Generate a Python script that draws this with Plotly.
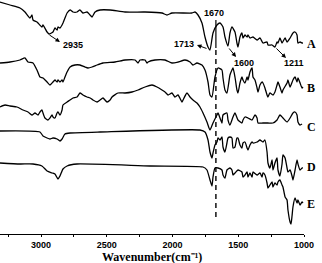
import plotly.graph_objects as go

# ---- data (wavenumber, relative transmittance incl. offset) ----
wn_A = [3312, 3236, 3160, 3122, 3084, 3069, 3061, 3031, 3023, 2993, 2985, 2954, 2939, 2909, 2894, 2878,
        2871, 2856, 2840, 2833, 2818, 2802, 2779, 2757, 2726, 2704, 2681, 2650, 2627, 2612, 2589, 2551,
        2475, 2361, 2209, 2080, 2042, 2004, 1852, 1829, 1806, 1776, 1753, 1730, 1715, 1692, 1662, 1639,
        1616, 1601, 1578, 1563, 1548, 1525, 1510, 1502, 1487, 1472, 1464, 1449, 1433, 1426, 1411, 1388,
        1357, 1335, 1312, 1281, 1274, 1243, 1221, 1205, 1198, 1183, 1167, 1144, 1129, 1106, 1084, 1068,
        1053, 1046, 1030, 1015, 1008]
t_A = [232, 229, 226, 222, 216, 219, 214, 212, 211, 207, 209, 202, 200, 202, 206, 204,
       207, 206, 209, 211, 216, 221, 224, 222, 222, 224, 221, 222, 219, 217, 222, 224,
       224, 222, 222, 221, 219, 221, 221, 222, 219, 211, 197, 187, 184, 201, 209, 211,
       207, 197, 188, 201, 207, 202, 191, 187, 197, 201, 196, 199, 197, 199, 196, 197,
       194, 196, 191, 192, 189, 189, 187, 192, 191, 196, 191, 196, 192, 196, 201, 202,
       199, 191, 192, 191, 191]

wn_B = [3312, 3236, 3160, 3122, 3099, 3061, 3031, 3008, 2985, 2954, 2932, 2909, 2894, 2878, 2871, 2856,
        2840, 2833, 2818, 2802, 2779, 2742, 2704, 2666, 2643, 2612, 2574, 2529, 2437, 2361, 2285, 2262,
        2247, 2209, 2194, 2186, 2133, 2057, 2004, 1958, 1905, 1867, 1844, 1814, 1776, 1753, 1730, 1715,
        1700, 1677, 1654, 1624, 1616, 1601, 1586, 1563, 1548, 1540, 1525, 1510, 1502, 1487, 1472, 1464,
        1449, 1433, 1426, 1411, 1395, 1388, 1373, 1357, 1350, 1335, 1319, 1312, 1297, 1281, 1274, 1259,
        1236, 1221, 1205, 1198, 1183, 1167, 1160, 1129, 1122, 1106, 1084, 1068, 1053, 1046, 1030, 1015, 1008]
t_B = [171, 172, 174, 176, 172, 171, 164, 157, 156, 152, 149, 152, 154, 152, 154, 152,
       154, 152, 157, 162, 167, 169, 169, 167, 166, 167, 169, 171, 172, 174, 174, 171,
       174, 174, 171, 172, 174, 174, 171, 172, 174, 172, 169, 171, 169, 164, 152, 139,
       137, 157, 166, 164, 156, 144, 141, 159, 164, 166, 157, 144, 141, 151, 157, 154,
       151, 157, 154, 162, 166, 157, 154, 146, 142, 149, 152, 151, 146, 139, 137, 141,
       139, 142, 149, 152, 147, 141, 144, 151, 154, 147, 154, 157, 152, 156, 151, 146, 147]

wn_C = [3312, 3274, 3236, 3183, 3137, 3099, 3069, 3046, 3023, 3008, 2993, 2985, 2970, 2947, 2932, 2916,
        2909, 2894, 2878, 2871, 2856, 2840, 2833, 2802, 2779, 2757, 2726, 2704, 2681, 2650, 2627, 2605,
        2574, 2551, 2529, 2498, 2475, 2460, 2415, 2361, 2308, 2262, 2209, 2156, 2118, 2080, 2057, 2034,
        2004, 1981, 1958, 1928, 1920, 1890, 1867, 1844, 1814, 1791, 1768, 1738, 1715, 1692, 1662, 1654,
        1639, 1624, 1616, 1586, 1578, 1563, 1540, 1525, 1502, 1472, 1464, 1449, 1426, 1395, 1373, 1357,
        1350, 1312, 1274, 1236, 1205, 1183, 1160, 1129, 1106, 1084, 1068, 1053, 1046, 1030, 1015]
t_C = [127, 129, 128, 127, 124, 122, 119, 121, 119, 122, 124, 121, 116, 114, 116, 119,
       117, 116, 121, 122, 119, 124, 129, 132, 134, 136, 137, 141, 139, 137, 136, 134,
       132, 134, 136, 132, 134, 137, 141, 141, 142, 144, 147, 149, 147, 144, 142, 139,
       141, 137, 139, 132, 134, 141, 137, 134, 131, 127, 121, 112, 104, 111, 119, 121,
       116, 111, 119, 121, 114, 109, 117, 121, 114, 111, 114, 117, 116, 114, 119, 116,
       111, 111, 111, 111, 114, 119, 116, 112, 116, 121, 122, 119, 112, 109, 110]

wn_D = [3312, 3008, 2985, 2954, 2932, 2909, 2878, 2856, 2840, 2818, 2779, 2551, 1791, 1753, 1730, 1715,
        1700, 1692, 1677, 1662, 1654, 1639, 1624, 1616, 1601, 1586, 1578, 1563, 1548, 1540, 1525, 1510,
        1502, 1487, 1472, 1464, 1449, 1433, 1426, 1411, 1395, 1388, 1357, 1335, 1312, 1297, 1281, 1274,
        1259, 1243, 1236, 1221, 1205, 1198, 1183, 1167, 1160, 1144, 1129, 1122, 1106, 1091, 1084, 1068,
        1053, 1046, 1030, 1015, 1008]
t_D = [103, 102, 98, 96, 95, 96, 95, 93, 95, 100, 101, 102, 104, 102, 94, 82,
       76, 81, 89, 92, 96, 94, 97, 87, 82, 91, 96, 97, 96, 86, 87, 96,
       96, 89, 86, 91, 92, 86, 84, 89, 92, 91, 92, 94, 92, 94, 82, 71,
       66, 74, 64, 71, 76, 64, 58, 70, 79, 76, 66, 62, 64, 58, 54, 64,
       74, 70, 64, 66, 66]

wn_E = [3312, 3160, 3061, 2993, 2954, 2916, 2894, 2871, 2856, 2833, 2802, 2726, 2171, 1768, 1738, 1715,
        1700, 1692, 1677, 1654, 1624, 1616, 1601, 1586, 1563, 1548, 1540, 1525, 1502, 1472, 1464, 1449,
        1433, 1426, 1411, 1395, 1388, 1357, 1335, 1319, 1312, 1297, 1281, 1274, 1259, 1243, 1236, 1221,
        1205, 1198, 1183, 1167, 1160, 1144, 1129, 1122, 1106, 1099, 1091, 1084, 1068, 1053, 1046, 1030,
        1015, 1008]
t_E = [71, 70, 70, 68, 63, 61, 60, 55, 58, 65, 68, 70, 68, 67, 64, 54,
       48, 57, 66, 66, 64, 59, 56, 64, 66, 64, 59, 61, 64, 62, 57, 59,
       62, 57, 61, 57, 62, 59, 61, 57, 61, 59, 51, 46, 49, 52, 47, 51,
       49, 52, 54, 49, 47, 37, 34, 24, 12, 10, 18, 27, 36, 31, 34, 29,
       32, 31]

series = [("A", wn_A, t_A, 190), ("B", wn_B, t_B, 146), ("C", wn_C, t_C, 107),
          ("D", wn_D, t_D, 67), ("E", wn_E, t_E, 30)]

tick_vals = [3000, 2500, 2000, 1500, 1000]
tick_text = ["3000", "2500", "2000", "1500", "1000"]
minor_vals = [3250, 2750, 2250, 1750, 1250]

# peak annotations: label, text position, arrow tail, arrow head
peak_labels = [
    ("2935", (2757, 189), (2947, 200), (2856, 192)),
    ("1713", (1913, 190), (1730, 185), (1814, 189)),
    ("1600", (1456, 171), (1578, 187), (1517, 177)),
    ("1211", (1076, 171), (1221, 187), (1137, 176)),
]
label_1670 = ("1670", (1685, 221))
dash_wn = 1670

fig = go.Figure()
for name, wn, t, ly in series:
    fig.add_trace(go.Scatter(x=wn, y=t, mode="lines", name=name,
                             line=dict(color="black", width=1.3, shape="spline", smoothing=0.5),
                             showlegend=False, hoverinfo="skip"))

annotations = []
for name, wn, t, ly in series:
    annotations.append(dict(x=1.024, xref="paper", y=ly, yref="y", text="<b>%s</b>" % name,
                            showarrow=False, xanchor="center", yanchor="middle",
                            font=dict(family="Liberation Serif", size=12, color="black")))

num_font = dict(family="Liberation Sans", size=9, color="black")
for txt, (tx, ty), (x0, y0), (x1, y1) in peak_labels:
    annotations.append(dict(x=tx, y=ty, xref="x", yref="y", text="<b>%s</b>" % txt,
                            showarrow=False, font=num_font))
    annotations.append(dict(x=x1, y=y1, ax=x0, ay=y0, xref="x", yref="y", axref="x", ayref="y",
                            text="", showarrow=True, arrowhead=2, arrowsize=0.9, arrowwidth=1,
                            arrowcolor="black", standoff=0, startstandoff=0))
annotations.append(dict(x=label_1670[1][0], y=label_1670[1][1], xref="x", yref="y",
                        text="<b>%s</b>" % label_1670[0], showarrow=False, font=num_font))

annotations.append(dict(x=0.5, xref="paper", y=-0.097, yref="paper",
                        text="<b>Wavenumber(cm\u207b\u00b9)</b>", showarrow=False,
                        xanchor="center", yanchor="middle",
                        font=dict(family="Liberation Serif", size=12, color="black")))

shapes = [
    dict(type="line", x0=dash_wn, x1=dash_wn, y0=214, y1=186, xref="x", yref="y",
         line=dict(color="black", width=1.2)),
    dict(type="line", x0=dash_wn, x1=dash_wn, y0=184, y1=15, xref="x", yref="y",
         line=dict(color="black", width=1.4, dash="5px,4px")),
]

fig.update_layout(
    width=322, height=263,
    margin=dict(l=0, r=18, t=0, b=29),
    paper_bgcolor="white", plot_bgcolor="white",
    annotations=annotations, shapes=shapes,
    xaxis=dict(range=[3312, 1000], showgrid=False, zeroline=False,
               showline=True, linecolor="black", linewidth=1.2,
               ticks="outside", ticklen=2, tickwidth=1.2, tickcolor="black",
               tickmode="array", tickvals=tick_vals,
               ticktext=["<b>%s</b>" % s for s in tick_text],
               tickfont=dict(family="Liberation Sans", size=9, color="black"),
               minor=dict(tickmode="array", tickvals=minor_vals, ticks="outside",
                          ticklen=2, tickwidth=1, tickcolor="black")),
    yaxis=dict(range=[0, 234], visible=False, showgrid=False, zeroline=False),
)

fig.write_html("out.html", config={"displayModeBar": False},
               post_script="document.body.style.margin='0px';document.body.style.padding='0px';")
